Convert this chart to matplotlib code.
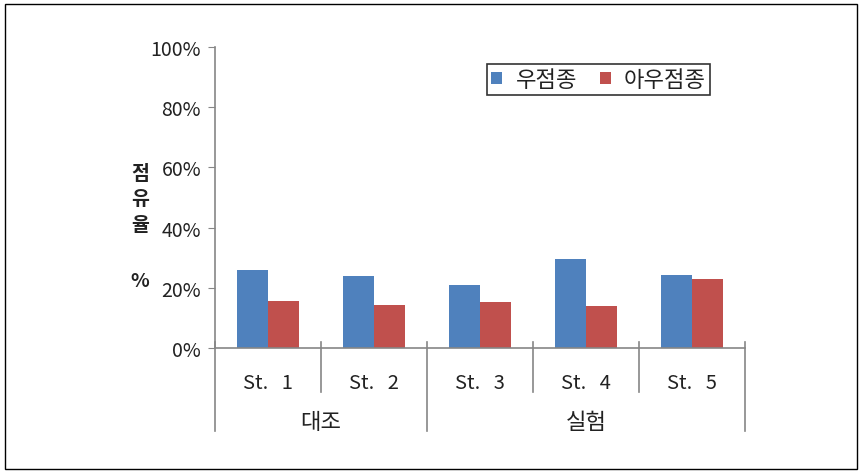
import matplotlib
matplotlib.use('Agg')
import matplotlib.pyplot as plt
from matplotlib.patches import Rectangle

plt.rcParams['font.family'] = ['Noto Sans CJK KR', 'DejaVu Sans']

# 데이터
stations = ['St.   1', 'St.   2', 'St.   3', 'St.   4', 'St.   5']
groups = ['대조', '실험']
group_sizes = [2, 3]
dominant = [25.8, 23.9, 21.0, 29.6, 24.4]      # 우점종
subdominant = [15.7, 14.4, 15.3, 13.8, 22.9]   # 아우점종
yticks = [0, 20, 40, 60, 80, 100]

blue = '#4F81BD'
red = '#C0504D'
axis_col = '#868686'
text_col = '#222222'

fig = plt.figure(figsize=(8.62, 4.77), dpi=100)
ax = fig.add_axes([0.2494, 0.2683, 0.6149, 0.6310])

x = list(range(len(stations)))
w = 0.29
ax.bar([i - w / 2 for i in x], dominant, width=w, color=blue, label='우점종')
ax.bar([i + w / 2 for i in x], subdominant, width=w, color=red, label='아우점종')

ax.set_xlim(-0.5, len(stations) - 0.5)
ax.set_ylim(0, 100)
ax.set_yticks(yticks)
ax.set_yticklabels([f'{v}%' for v in yticks], fontsize=14, color=text_col)
ax.tick_params(axis='y', direction='out', length=5, color=axis_col, pad=5)
ax.set_xticks([])

for s in ['top', 'right']:
    ax.spines[s].set_visible(False)
for s in ['left', 'bottom']:
    ax.spines[s].set_color(axis_col)
    ax.spines[s].set_linewidth(1.2)

# 카테고리 라벨과 구분선
trans = ax.get_xaxis_transform()
for i, name in enumerate(stations):
    ax.text(i, -0.115, name, transform=trans, ha='center', va='center',
            fontsize=14.5, color=text_col)

boundaries = [b - 0.5 for b in range(len(stations) + 1)]
group_edges = [-0.5]
for n in group_sizes:
    group_edges.append(group_edges[-1] + n)
for b in boundaries:
    low = -0.276 if b in group_edges else -0.146
    ax.plot([b, b], [0.02, low], transform=trans, color=axis_col,
            lw=1.2, clip_on=False)

for g, (a, b) in zip(groups, zip(group_edges[:-1], group_edges[1:])):
    ax.text((a + b) / 2, -0.245, g, transform=trans, ha='center', va='center',
            fontsize=16, color=text_col)

# 범례
leg = ax.legend(loc='upper left', bbox_to_anchor=(0.513, 0.945), ncol=2,
                fontsize=16, frameon=True, fancybox=False, handlelength=0.5,
                handleheight=0.5, handletextpad=0.6, columnspacing=1.0,
                borderpad=0.2, borderaxespad=0)
leg.get_frame().set_edgecolor('black')
leg.get_frame().set_linewidth(1.2)
for t in leg.get_texts():
    t.set_color(text_col)

# y축 제목
fig.text(140 / 862, 1 - 200 / 477, '점\n유\n율', ha='center', va='center',
         fontsize=14, fontweight='bold', linespacing=1.45, color=text_col)
fig.text(140 / 862, 1 - 282 / 477, '%', ha='center', va='center',
         fontsize=14, fontweight='bold', color=text_col)

# 외곽선
fig.patches.append(Rectangle((5 / 862, 7 / 477), 852 / 862, 465 / 477,
                             transform=fig.transFigure, fill=False,
                             edgecolor='black', lw=1))

fig.savefig('out.png', dpi=100)
